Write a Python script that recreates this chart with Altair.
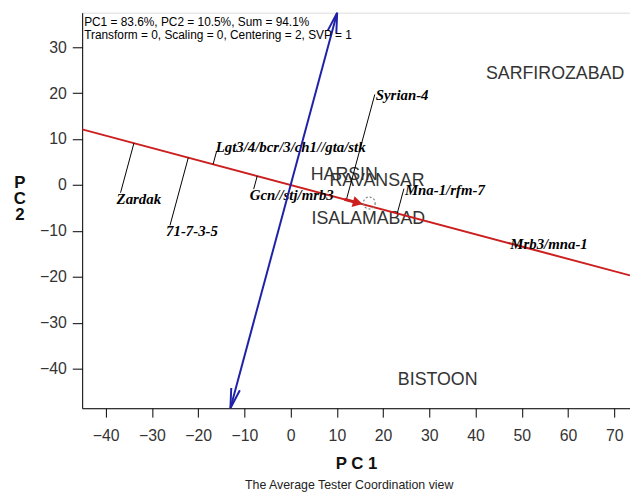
import math
import altair as alt
import pandas as pd

# ---------------- data ----------------
gen_names = ["Zardak", "71-7-3-5", "Lgt3/4/bcr/3/ch1//gta/stk", "Gcn//stj/mrb3",
             "Syrian-4", "Mna-1/rfm-7", "Mrb3/mna-1"]
gen_pc1 = [-36.8, -26.1, -16.0, -8.0, 18.2, 24.5, 47.3]
gen_pc2 = [-1.7, -8.8, 7.4, -0.9, 19.7, -0.8, -12.6]

env_names = ["SARFIROZABAD", "HARSIN", "RAVANSAR", "ISALAMABAD", "BISTOON"]
env_pc1 = [57.2, 11.6, 18.7, 16.8, 31.8]
env_pc2 = [24.2, 2.2, 0.9, -7.4, -42.5]

avg_env_pc1 = 17.0
avg_env_pc2 = -4.56

x_ticks = [-40, -30, -20, -10, 0, 10, 20, 30, 40, 50, 60, 70]
y_ticks = [-40, -30, -20, -10, 0, 10, 20, 30]
x_domain = [-45.1, 73.4]
y_domain = [-48.6, 37.5]

info_lines = ["PC1 = 83.6%, PC2 = 10.5%, Sum = 94.1%",
              "Transform = 0, Scaling = 0, Centering = 2, SVP = 1"]
subtitle = "The Average Tester Coordination view"

below_group = ["Zardak", "71-7-3-5", "Gcn//stj/mrb3"]
above_group = ["Lgt3/4/bcr/3/ch1//gta/stk"]
right_group = ["Syrian-4", "Mna-1/rfm-7", "Mrb3/mna-1"]

# ---------------- layout ----------------
W, H = 554, 400
PAD_L, PAD_T, PAD_R, PAD_B = 75, 2, 0, 84
kx = W / (x_domain[1] - x_domain[0])
ky = H / (y_domain[1] - y_domain[0])

RED = "#cc1f1f"
BLUE = "#1f22a6"
SANS = "Liberation Sans"
SERIF = "Liberation Serif"

xs = alt.Scale(domain=x_domain, nice=False, zero=False)
ys = alt.Scale(domain=y_domain, nice=False, zero=False)

x_axis = alt.Axis(values=x_ticks, title="P C 1", grid=False, tickSize=9,
                  tickColor="black", domainColor="black", labelFont=SANS,
                  labelFontSize=16, labelColor="#333333", labelPadding=11,
                  labelFlush=False, labelOverlap=False,
                  titleFont=SANS, titleFontSize=17, titleFontWeight="bold",
                  titleColor="#111111", titlePadding=12)
y_axis = alt.Axis(values=y_ticks, title=None, grid=False, tickSize=10,
                  tickColor="black", domainColor="black", labelFont=SANS,
                  labelFontSize=16, labelColor="#333333", labelPadding=6,
                  labelFlush=False, labelOverlap=False)


def X(f):
    return alt.X(f, type="quantitative", scale=xs, axis=x_axis)


def Y(f):
    return alt.Y(f, type="quantitative", scale=ys, axis=y_axis)


# ---------------- derived geometry ----------------
ax_, ay_ = avg_env_pc1, avg_env_pc2
s = ay_ / ax_                      # slope of the average-environment axis
den = ax_ * ax_ + ay_ * ay_

red_df = pd.DataFrame({"x": [x_domain[0]], "y": [s * x_domain[0]],
                       "x2": [x_domain[1]], "y2": [s * x_domain[1]]})
blue_df = pd.DataFrame({"x": [-s * y_domain[0]], "y": [y_domain[0]],
                        "x2": [-s * y_domain[1]], "y2": [y_domain[1]]})

feet_x, feet_y = [], []
for gx, gy in zip(gen_pc1, gen_pc2):
    t = (gx * ax_ + gy * ay_) / den
    feet_x.append(t * ax_)
    feet_y.append(t * ay_)
gen_df = pd.DataFrame({"name": gen_names, "x": gen_pc1, "y": gen_pc2,
                       "fx": feet_x, "fy": feet_y})
env_df = pd.DataFrame({"name": env_names, "x": env_pc1, "y": env_pc2})

# blue arrow heads
Lb = math.hypot(s * kx, ky)
back = 10 / Lb
blue_ang = math.degrees(math.atan2(-s * kx, ky))
arrow_df = pd.DataFrame({
    "x": [-s * (y_domain[1] - back), -s * (y_domain[0] + back)],
    "y": [y_domain[1] - back, y_domain[0] + back],
    "a": [blue_ang, blue_ang + 180],
})

# red arrow near the average environment
Lr = math.hypot(kx, s * ky)
red_ang = math.degrees(math.atan2(-s * ky, kx))
hx = ax_ - 12 / Lr
tx = ax_ - 26 / Lr
red_arrow_df = pd.DataFrame({"x": [hx], "y": [s * hx], "a": [red_ang]})
red_shaft_df = pd.DataFrame({"x": [tx], "y": [s * tx], "x2": [hx], "y2": [s * hx]})
avg_df = pd.DataFrame({"x": [ax_], "y": [ay_]})

one = pd.DataFrame({"k": [0]})

# ---------------- layers ----------------
env_layer = alt.Chart(env_df).mark_text(
    font=SANS, fontSize=18, color="#333333", align="center", baseline="middle"
).encode(x=X("x"), y=Y("y"), text="name:N")

red_line = alt.Chart(red_df).mark_rule(color=RED, strokeWidth=2, clip=True).encode(
    x=X("x"), y=Y("y"), x2="x2:Q", y2="y2:Q")

proj = alt.Chart(gen_df).mark_rule(color="black", strokeWidth=1).encode(
    x=X("x"), y=Y("y"), x2="fx:Q", y2="fy:Q")


def gen_text(names, dx, dy):
    return alt.Chart(gen_df).transform_filter(
        alt.FieldOneOfPredicate(field="name", oneOf=names)
    ).mark_text(font=SERIF, fontSize=15, fontWeight="bold", fontStyle="italic",
                color="black", align="left", baseline="middle", dx=dx, dy=dy
                ).encode(x=X("x"), y=Y("y"), text="name:N")


gen_below = gen_text(below_group, -4, 6)
gen_above = gen_text(above_group, -1, -4)
gen_right = gen_text(right_group, 1, 1)

avg_circle = alt.Chart(avg_df).mark_point(
    shape="circle", size=144, filled=False, color="#808080", strokeDash=[2, 2],
    strokeWidth=1.3, opacity=1, yOffset=-3).encode(x=X("x"), y=Y("y"))

red_shaft = alt.Chart(red_shaft_df).mark_rule(color=RED, strokeWidth=3).encode(
    x=X("x"), y=Y("y"), x2="x2:Q", y2="y2:Q")
red_head = alt.Chart(red_arrow_df).mark_point(
    shape="triangle-right", size=130, filled=True, color=RED, opacity=1).encode(
    x=X("x"), y=Y("y"), angle=alt.Angle("a:Q", scale=None))

blue_line = alt.Chart(blue_df).mark_rule(color=BLUE, strokeWidth=2, clip=True).encode(
    x=X("x"), y=Y("y"), x2="x2:Q", y2="y2:Q")
blue_heads = alt.Chart(arrow_df).mark_point(
    shape="M-0.45,1L0,-1L0.45,1", size=400, filled=False, color=BLUE,
    strokeWidth=2, opacity=1).encode(
    x=X("x"), y=Y("y"), angle=alt.Angle("a:Q", scale=None))

info = alt.Chart(one).mark_text(
    font=SANS, fontSize=12, color="black", align="left", baseline="top",
    lineHeight=14).encode(x=alt.value(2), y=alt.value(4), text=alt.value(info_lines))

y_title = alt.Chart(one).mark_text(
    font=SANS, fontSize=17, fontWeight="bold", color="#111111", align="center",
    baseline="middle", lineHeight=16.5).encode(
    x=alt.value(20 - 83), y=alt.value(172), text=alt.value(["P", "C", "2"]))

sub = alt.Chart(one).mark_text(
    font=SANS, fontSize=12.5, color="#222222", align="center",
    baseline="middle").encode(x=alt.value(270), y=alt.value(478),
                              text=alt.value(subtitle))

chart = alt.layer(
    env_layer, red_line, proj, gen_below, gen_above, gen_right,
    avg_circle, red_shaft, red_head, blue_line, blue_heads, info, y_title, sub
).properties(
    width=W, height=H,
    autosize=alt.AutoSizeParams(type="none"),
    padding={"left": PAD_L, "top": PAD_T, "right": PAD_R, "bottom": PAD_B},
).configure_view(stroke="black", strokeWidth=1).configure(background="white")

chart.save("out.html", embed_options={"renderer": "svg", "actions": False})
